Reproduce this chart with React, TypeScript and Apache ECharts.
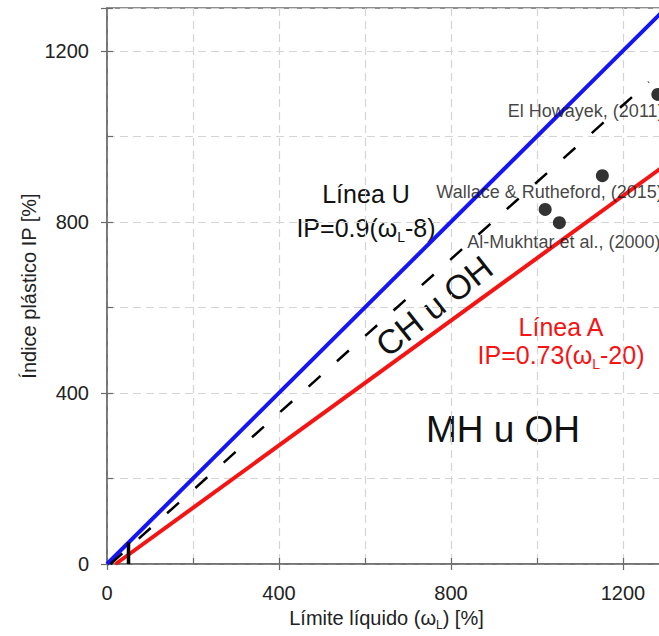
import React, { useEffect, useRef } from "react";
import * as echarts from "echarts";

// ---- data ----
const majorTicks = [0, 400, 800, 1200];
const uLineX = [0, 1300];
const uLineY = [0, 1300];
const aLineX = [20, 1300];
const aLineY = [0, 934];
const dashLineX = [8, 1260];
const dashLineY = [0, 1127];
const barX = [50, 50];
const barY = [0, 50];
const pointX = [1281, 1152, 1019, 1052];
const pointY = [1098, 908, 829, 798];
const pointNames = ["El Howayek, (2011)", "Wallace & Rutheford, (2015)", "", "Al-Mukhtar et al., (2000)"];

const FONT = "'Liberation Sans', Arial, Helvetica, sans-serif";

const labelOffsets: Record<number, [number, number]> = {
  0: [-161.5, 17],
  1: [-177.5, 16],
  3: [-103.5, 19],
};

function pairs(xs: number[], ys: number[]) {
  return xs.map((x, i) => [x, ys[i]]);
}

export default function App() {
  const ref = useRef<HTMLDivElement>(null);
  useEffect(() => {
    if (!ref.current) return;
    const chart = echarts.init(ref.current, undefined, { renderer: "svg" });
    const axisColor = "#6b6b6b";
    const gridLine = { show: true, lineStyle: { color: "#d4d4d4", type: [8, 5] as any, width: 1.2 } };
    const subRichAxis = (size: number, color: string, subSize: number) => ({
      a: { fontSize: size, color, fontFamily: FONT, lineHeight: size + 6, verticalAlign: "middle" },
      s: { fontSize: subSize, color, fontFamily: FONT, lineHeight: subSize, verticalAlign: "bottom" },
    });
    const subRichGraphic = (size: number, color: string, subSize: number) => ({
      a: { fontSize: size, fill: color, fontFamily: FONT, lineHeight: size + 6, verticalAlign: "middle" },
      s: { fontSize: subSize, fill: color, fontFamily: FONT, lineHeight: subSize, verticalAlign: "bottom" },
    });
    const fmt = (v: number) => (majorTicks.includes(v) ? String(v) : "");
    const option: any = {
      animation: false,
      backgroundColor: "#ffffff",
      grid: { left: 107, top: 8, right: 14, bottom: 68, show: true, borderColor: axisColor, borderWidth: 1.5, backgroundColor: "transparent" },
      xAxis: [
        {
          type: "value", min: 0, max: 1300, interval: 200, position: "bottom",
          axisLine: { show: true, lineStyle: { color: axisColor, width: 1.5 } },
          axisTick: { show: true, inside: true, length: 6, lineStyle: { color: axisColor, width: 1.2 } },
          axisLabel: { show: false },
          splitLine: gridLine,
          name: "{a|Límite líquido (ω}{s|L}{a|) [%]}",
          nameLocation: "middle",
          nameGap: 41,
          nameTextStyle: { rich: subRichAxis(20, "#222", 12) },
        },
        {
          type: "value", min: 0, max: 1300, interval: 400, position: "bottom",
          axisLine: { show: false },
          axisTick: { show: true, inside: false, length: 6, lineStyle: { color: axisColor, width: 1.2 } },
          axisLabel: { show: true, margin: 19, fontSize: 20, color: "#222", fontFamily: FONT, formatter: fmt },
          splitLine: { show: false },
        },
      ],
      yAxis: [
        {
          type: "value", min: 0, max: 1300, interval: 200, position: "left",
          axisLine: { show: true, lineStyle: { color: axisColor, width: 1.5 } },
          axisTick: { show: true, inside: true, length: 6, lineStyle: { color: axisColor, width: 1.2 } },
          axisLabel: { show: false },
          splitLine: gridLine,
          name: "Índice plástico IP [%]",
          nameLocation: "middle",
          nameGap: 68,
          nameTextStyle: { fontSize: 20, color: "#222", fontFamily: FONT },
        },
        {
          type: "value", min: 0, max: 1300, interval: 400, position: "left", offset: 0,
          axisLine: { show: false },
          axisTick: { show: true, inside: false, length: 6, lineStyle: { color: axisColor, width: 1.2 } },
          axisLabel: { show: true, margin: 18, fontSize: 20, color: "#222", fontFamily: FONT, formatter: fmt },
          splitLine: { show: false },
        },
      ],
      series: [
        {
          type: "line", data: pairs(uLineX, uLineY), symbol: "none", clip: true,
          lineStyle: { color: "#1414f5", width: 4 }, z: 3,
        },
        {
          type: "line", data: pairs(aLineX, aLineY), symbol: "none", clip: true,
          lineStyle: { color: "#f51414", width: 4 }, z: 3,
        },
        {
          type: "line", data: pairs(dashLineX, dashLineY), symbol: "none", clip: true,
          lineStyle: { color: "#000", width: 2.5, type: [16, 22] }, z: 4,
        },
        {
          type: "line", data: pairs(barX, barY), symbol: "none", clip: true,
          lineStyle: { color: "#000", width: 3.5 }, z: 4,
        },
        {
          type: "scatter", symbol: "circle", symbolSize: 13, clip: false, z: 5,
          itemStyle: { color: "#000" },
          label: {
            show: true, position: "right", distance: 5, align: "left", verticalAlign: "middle",
            formatter: "{b}", fontSize: 18, color: "#111", fontFamily: FONT,
          },
          data: pointX.map((x, i) => ({
            name: pointNames[i],
            value: [x, pointY[i]],
            label: pointNames[i] ? { offset: labelOffsets[i] } : { show: false },
          })),
        },
      ],
      graphic: [
        { type: "text", x: 366, y: 194, style: { text: "Línea U", fill: "#111", font: `25px ${FONT}`, align: "center", verticalAlign: "middle" } },
        {
          type: "text", x: 366, y: 228,
          style: { text: "{a|IP=0.9(ω}{s|L}{a|-8)}", align: "center", verticalAlign: "middle", rich: subRichGraphic(25, "#111", 14) },
        },
        { type: "text", x: 561, y: 327, style: { text: "Línea A", fill: "#f51414", font: `25px ${FONT}`, align: "center", verticalAlign: "middle" } },
        {
          type: "text", x: 561, y: 355,
          style: { text: "{a|IP=0.73(ω}{s|L}{a|-20)}", align: "center", verticalAlign: "middle", rich: subRichGraphic(25, "#f51414", 14) },
        },
        { type: "text", x: 503, y: 429, style: { text: "MH u OH", fill: "#111", font: `37px ${FONT}`, align: "center", verticalAlign: "middle" } },
        {
          type: "text", x: 434, y: 306, rotation: 0.675,
          style: { text: "CH u OH", fill: "#111", font: `34px ${FONT}`, align: "center", verticalAlign: "middle" },
        },
      ],
    };
    chart.setOption(option);
    return () => chart.dispose();
  }, []);
  return (
    <div style={{ position: "fixed", left: 0, top: 0, width: 659, height: 636, overflow: "hidden", background: "#fff" }}>
      <div ref={ref} style={{ width: 680, height: 636 }} />
    </div>
  );
}
